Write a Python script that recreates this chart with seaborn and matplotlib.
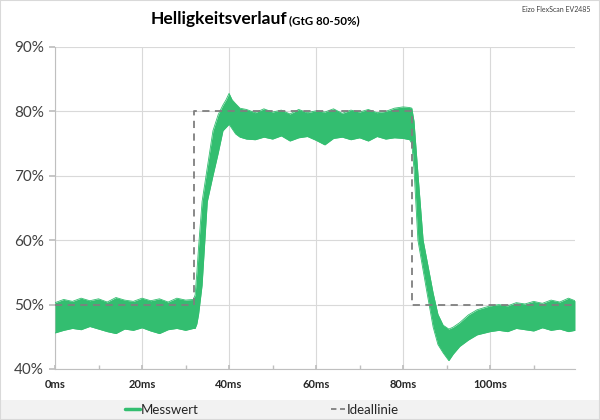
import numpy as np
import pandas as pd
import matplotlib
matplotlib.use('Agg')
import matplotlib.pyplot as plt
from matplotlib.lines import Line2D
from matplotlib.patches import Rectangle
from matplotlib.ticker import MultipleLocator, FuncFormatter
import seaborn as sns

time_ms = [0, 2, 4, 6, 8, 10, 12, 14, 16, 18, 20, 22, 24, 26, 28, 30, 31.8,
           32.2, 32.6, 33, 33.8, 35, 36.3, 37.5, 38.6, 39.3, 40, 40.7, 41.5, 42.5, 44,
           46, 48, 50, 52, 54, 56, 58, 60, 62, 64, 66, 68, 70, 72, 74, 76, 78, 80, 81.5,
           82, 82.5, 83.4, 84.6, 85.5, 86.9, 88, 89.2, 90.5, 91.5, 93, 95, 97, 100,
           102, 104, 106, 108, 110, 112, 114, 116, 118, 119.5]
upper_pct = [50.3, 50.8, 50.5, 51.0, 50.6, 50.9, 50.4, 51.1, 50.7, 50.5, 51.0, 50.6, 50.9, 50.4, 51.0, 50.7, 50.8,
             51.5, 55.0, 59.0, 66.0, 71.3, 77.0, 79.5, 81.0, 81.8, 82.8, 81.8, 81.2, 80.5, 80.3,
             79.8, 80.4, 79.9, 80.2, 79.6, 80.3, 79.8, 80.1, 79.9, 80.4, 79.7, 80.2, 79.9, 80.3, 79.8, 80.0, 80.5, 80.7, 80.6,
             80.5, 78.5, 70.4, 60.0, 56.8, 51.8, 48.5, 46.8, 46.2, 46.5, 47.2, 48.4, 49.2, 49.8,
             50.0, 49.8, 50.3, 50.1, 50.5, 50.2, 50.7, 50.4, 51.0, 50.6]
lower_pct = [45.6, 46.0, 46.3, 46.1, 46.6, 46.2, 45.8, 45.5, 46.2, 46.0, 46.4, 45.9, 45.5, 46.1, 46.3, 46.0, 46.3,
             46.3, 47.0, 48.5, 53.0, 66.0, 70.0, 73.5, 77.0, 77.5, 78.0, 77.3, 76.5, 76.0, 75.7,
             75.6, 76.0, 75.7, 76.2, 75.4, 75.9, 76.1, 75.5, 74.8, 75.8, 76.0, 75.6, 75.9, 75.4, 76.1, 75.7, 75.9, 75.8, 75.6,
             75.0, 71.0, 60.0, 55.3, 51.8, 46.5, 43.8, 42.5, 41.3, 42.3, 43.5, 44.5, 45.3, 45.8,
             46.0, 45.8, 46.3, 46.1, 45.9, 46.4, 46.0, 46.2, 45.8, 46.0]

# Ideal step response
ideal_ms = [0, 32, 32, 82, 82, 119.5]
ideal_pct = [50, 50, 80, 80, 50, 50]

x_ticks = [0, 20, 40, 60, 80, 100]
y_ticks = [40, 50, 60, 70, 80, 90]

green = '#33BE70'
grey_dash = '#7F7F7F'

sns.set_theme(style='white')
plt.rcParams['font.family'] = ['Lato', 'DejaVu Sans']

df = pd.DataFrame({'t': time_ms, 'hi': upper_pct, 'lo': lower_pct})
ideal = pd.DataFrame({'t': ideal_ms, 'v': ideal_pct})

fig = plt.figure(figsize=(6, 4.2), dpi=100)
ax = fig.add_axes([55 / 600, 1 - 369 / 420, 520 / 600, 322 / 420])

ax.fill_between(df['t'], df['lo'], df['hi'], color=green, linewidth=0, zorder=3)
sns.lineplot(data=df, x='t', y='hi', color=green, linewidth=0.6, ax=ax, zorder=3,
             estimator=None, errorbar=None, sort=False)
sns.lineplot(data=df, x='t', y='lo', color=green, linewidth=0.6, ax=ax, zorder=3,
             estimator=None, errorbar=None, sort=False)
sns.lineplot(data=ideal, x='t', y='v', color=grey_dash, linewidth=1.3,
             linestyle=(0, (4, 3)), ax=ax, zorder=4,
             estimator=None, errorbar=None, sort=False)

ax.set_xlim(0, 119.5)
ax.set_ylim(40, 90)
ax.set_xticks(x_ticks)
ax.xaxis.set_minor_locator(MultipleLocator(10))
ax.set_yticks(y_ticks)
ax.xaxis.set_major_formatter(FuncFormatter(lambda v, p: f'{v:.0f}ms'))
ax.yaxis.set_major_formatter(FuncFormatter(lambda v, p: f'{v:.0f}%'))
ax.set_xlabel('')
ax.set_ylabel('')

ax.grid(True, color='#D9D9D9', linewidth=0.8)
ax.set_axisbelow(True)
for s in ['top', 'right']:
    ax.spines[s].set_visible(False)
for s in ['left', 'bottom']:
    ax.spines[s].set_color('#BFBFBF')
    ax.spines[s].set_linewidth(0.8)

ax.tick_params(axis='y', which='major', left=True, length=4, color='#BFBFBF',
               labelsize=11, labelcolor='#404040', pad=4)
ax.tick_params(axis='x', which='both', bottom=True, direction='in', length=3,
               color='#BFBFBF', labelsize=8, labelcolor='#262626', pad=7)
for lbl in ax.get_xticklabels():
    lbl.set_fontweight('bold')

# Titles
fig.text(287 / 600, 1 - 24 / 420, 'Helligkeitsverlauf', ha='right', va='baseline',
         fontsize=12.5, fontweight='bold', color='#000000')
fig.text(289 / 600, 1 - 24 / 420, '(GtG 80-50%)', ha='left', va='baseline',
         fontsize=8.3, fontweight='bold', color='#000000')
fig.text(590 / 600, 1 - 10 / 420, 'Eizo FlexScan EV2485', ha='right', va='center',
         fontsize=5, color='#404040')

# Legend band at the bottom
fig.patches.append(Rectangle((0, 0), 1, 20 / 420, transform=fig.transFigure,
                             facecolor='#F2F2F2', edgecolor='none', zorder=0))
fig.patches.append(Rectangle((0, 0), 1, 1, transform=fig.transFigure,
                             facecolor='none', edgecolor='#D9D9D9', linewidth=1.5, zorder=5))
handles = [Line2D([], [], color=green, linewidth=2.5),
           Line2D([], [], color=grey_dash, linewidth=1.3, linestyle=(0, (3, 2)))]
fig.legend(handles, ['Messwert', 'Ideallinie'], loc='center', bbox_to_anchor=(262 / 600, 10 / 420),
           ncol=2, frameon=False, fontsize=9.5, handlelength=1.1, handletextpad=0.1,
           columnspacing=10, labelcolor='#262626')

fig.savefig('out.png', dpi=100)
